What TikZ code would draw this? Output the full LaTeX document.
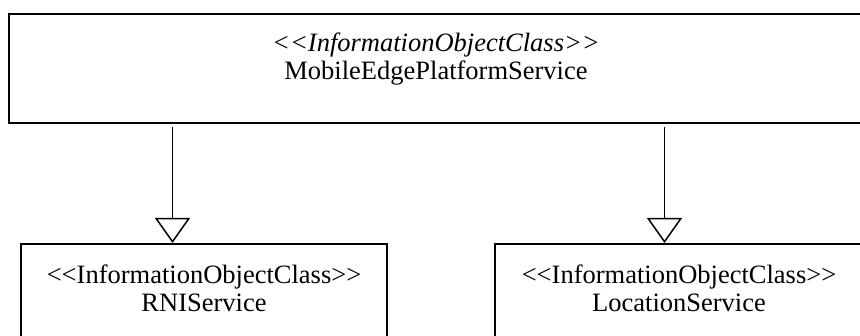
\documentclass[tikz,border=0pt]{standalone}
\usepackage{fontspec}
\setmainfont{Liberation Serif}
\usepackage{tikz}
\usetikzlibrary{arrows.meta}
\usetikzlibrary{positioning}
\newcommand{\stereotype}[1]{{<}{<}#1{>}{>}}
\tikzstyle{classbox}=[rectangle, draw, line width=2pt, anchor=north west, inner sep=0pt]
\tikzstyle{classtext}=[align=center, inner sep=0pt, font=\fontsize{26.5}{28}\selectfont]
\tikzstyle{inherit}=[-{Triangle[open, length=25pt, width=35pt]}, line width=1.5pt, shorten <=3pt]
\tikzset{every picture/.style={
    x=1pt, y=-1pt
  }
}

\begin{document}
\begin{tikzpicture}
        \clip (0,0) rectangle (860,336);
        \node[classbox, minimum width=854pt, minimum height=109pt] at (8,13) (mep) {};
        \node[classbox, minimum width=366pt, minimum height=120pt] at (20,243) (rni) {};
        \node[classbox, minimum width=368pt, minimum height=120pt] at (494,243) (loc) {};
        \node[classtext, below=20pt of mep.north] (meplabel) {\textit{\stereotype{InformationObjectClass}}\\MobileEdgePlatformService};
        \node[classtext, below=22pt of rni.north] (rnilabel) {\stereotype{InformationObjectClass}\\RNIService};
        \node[classtext, below=22pt of loc.north] (loclabel) {\stereotype{InformationObjectClass}\\LocationService};
        \coordinate (rnitip) at (172.5,243);
        \coordinate (loctip) at (664.5,243);
        \draw[inherit] (mep.south -| rnitip) -- (rni.north -| rnitip);
        \draw[inherit] (mep.south -| loctip) -- (loc.north -| loctip);
      \end{tikzpicture}
\end{document}
